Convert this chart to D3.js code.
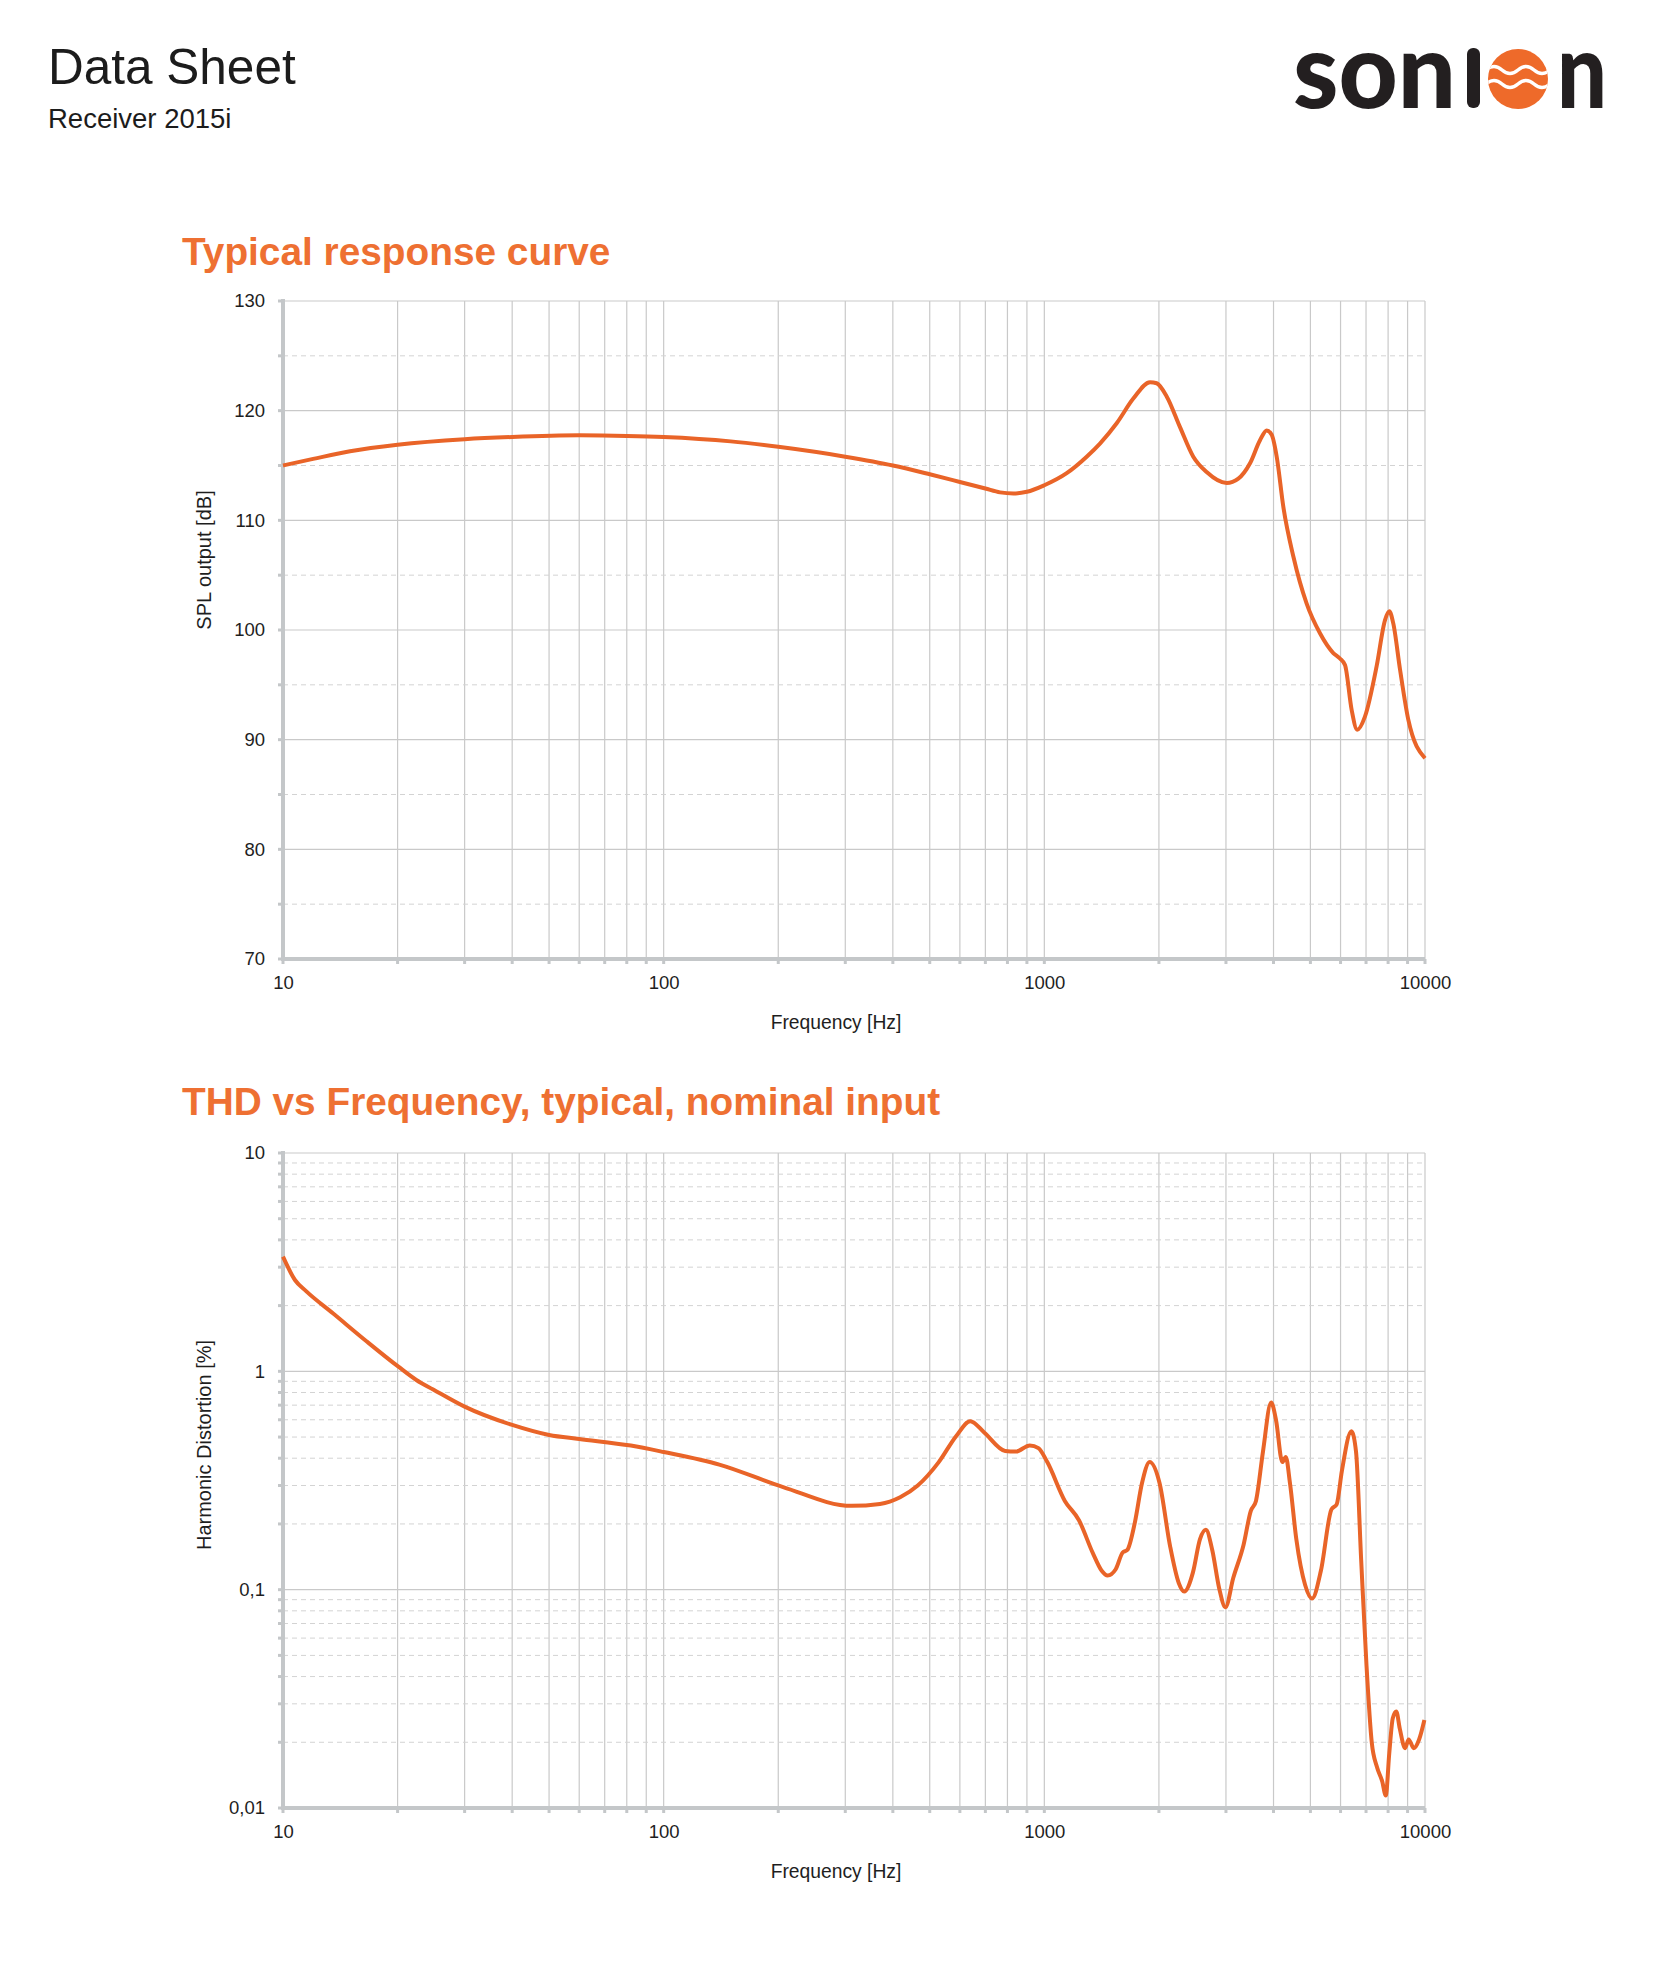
<!DOCTYPE html>
<html>
<head>
  <meta charset="utf-8" />
  <title>Data Sheet - Receiver 2015i</title>
  <style>
    body {
      margin: 0;
      background: #fff;
    }

    svg {
      display: block;
      font-family: Arial, "Liberation Sans", sans-serif;
    }

    .grid-major {
      stroke: #c9c9c9;
      stroke-width: 1.2;
    }

    .grid-minor {
      stroke: #d3d3d3;
      stroke-width: 1;
      stroke-dasharray: 5, 4;
    }

    .axis-line {
      stroke: #c4c7c9;
      stroke-width: 4;
    }

    .tick-mark {
      stroke: #c4c7c9;
      stroke-width: 3;
    }

    .tick-label {
      font-size: 18.5px;
      fill: #1e1e1e;
    }

    .axis-title {
      font-size: 19.3px;
      fill: #1e1e1e;
    }

    .y-title {
      font-size: 20px;
      fill: #1e1e1e;
    }

    .chart-title {
      font-size: 38.8px;
      font-weight: bold;
      fill: #ee7032;
    }

    .curve {
      fill: none;
      stroke: #e96428;
      stroke-width: 4;
      stroke-linejoin: round;
    }

    .logo-text {
      font-family: Lato, "Open Sans", sans-serif;
      font-weight: 900;
      font-size: 105px;
      fill: #231f20;
    }
  </style>
  <script src="https://cdnjs.cloudflare.com/ajax/libs/d3/7.8.5/d3.min.js"></script>
</head>

<body>
  <svg id="page" width="1654" height="1979"></svg>
  <script>
    // response curve (SPL output in dB vs frequency)
    var splFreq = [10, 12, 15, 20, 30, 40, 60, 80, 100, 150, 200, 300, 400, 500, 600, 700, 765, 830, 900, 1000,
      1145, 1292, 1400, 1549, 1713, 1895, 1973, 2096, 2272, 2462, 2669, 3013, 3233, 3470, 3686, 3838, 3956,
      4078, 4246, 4510, 4888, 5298, 5742, 5978, 6164, 6418, 6637, 6954, 7464, 7852, 8058, 8254, 8598, 9042, 10000];
    var splValues = [115.0, 115.6, 116.3, 116.9, 117.4, 117.6, 117.75, 117.7, 117.6, 117.2, 116.7, 115.8, 115.0, 114.2, 113.5, 112.9, 112.55, 112.45, 112.6, 113.2,
      114.3, 115.8, 117.0, 118.85, 121.1, 122.6, 122.5, 121.3, 118.5, 115.8, 114.4, 113.4, 113.8, 115.2, 117.3, 118.2, 117.8,
      115.8, 111.2, 106.7, 102.4, 99.7, 97.9, 97.4, 96.8, 92.7, 90.9, 92.1, 96.7, 100.9, 101.7, 100.6, 96.4, 91.8, 88.3];

    // harmonic distortion in % vs frequency
    var thdFreq = [10, 10.75, 11.5, 13.55, 16.6, 20.1, 22.4, 24.8, 30, 40, 50, 60, 82, 100, 140, 206, 312, 370, 418, 465, 528,
      587, 639, 695, 789, 841, 916, 965, 1018, 1132, 1233, 1341, 1415, 1466, 1540, 1606, 1652, 1730, 1805, 1891,
      2008, 2140, 2256, 2329, 2457, 2563, 2657, 2761, 2881, 2991, 3135, 3339, 3485, 3597, 3753, 3942, 4061, 4219,
      4309, 4419, 4592, 4843, 5050, 5327, 5678, 5861, 6049, 6407, 6588, 6798, 7020, 7248, 7478, 7724, 7888, 8056,
      8229, 8405, 8585, 8867, 9057, 9343, 9650, 9963];
    var thdValues = [3.35, 2.62, 2.33, 1.84, 1.37, 1.05, 0.913, 0.826, 0.689, 0.568, 0.511, 0.49, 0.457, 0.427, 0.374, 0.295, 0.242, 0.247, 0.265, 0.30, 0.384,
      0.506, 0.591, 0.525, 0.432, 0.429, 0.458, 0.445, 0.384, 0.255, 0.208, 0.147, 0.122, 0.116, 0.124, 0.148, 0.152, 0.204, 0.307, 0.384,
      0.307, 0.158, 0.107, 0.098, 0.120, 0.170, 0.188, 0.152, 0.101, 0.083, 0.113, 0.161, 0.229, 0.255, 0.429, 0.719, 0.598, 0.384,
      0.405, 0.307, 0.170, 0.105, 0.091, 0.122, 0.233, 0.246, 0.350, 0.531, 0.429, 0.136, 0.0449, 0.0199, 0.0154, 0.0132, 0.0114, 0.0178,
      0.0258, 0.0277, 0.0231, 0.0188, 0.0206, 0.0188, 0.0206, 0.0253];

    var freqTickValues = [10, 100, 1000, 10000];
    var splTickValues = [70, 80, 90, 100, 110, 120, 130];
    var splMinorValues = [75, 85, 95, 105, 115, 125];
    var thdTickValues = [0.01, 0.1, 1, 10];
    var thdTickLabels = ['0,01', '0,1', '1', '10'];

    var svg = d3.select('#page');
    var left = 283, right = 1425;

    // header
    svg.append('text')
      .attr('x', 48).attr('y', 84)
      .attr('font-size', 49.5).attr('fill', '#1c1c1c')
      .text('Data Sheet');
    svg.append('text')
      .attr('x', 48).attr('y', 128)
      .attr('font-size', 27.5).attr('fill', '#1c1c1c')
      .text('Receiver 2015i');

    // logo: "son", a plain stem for the i, the orange wave disc, "n"
    var logo = svg.append('g');
    logo.append('text').attr('class', 'logo-text')
      .attr('x', 1293).attr('y', 108)
      .attr('textLength', 163).attr('lengthAdjust', 'spacingAndGlyphs')
      .text('son');
    logo.append('rect')
      .attr('x', 1467).attr('y', 48).attr('width', 13).attr('height', 60)
      .attr('rx', 6).attr('fill', '#231f20');
    logo.append('text').attr('class', 'logo-text')
      .attr('x', 1557).attr('y', 108)
      .attr('textLength', 50).attr('lengthAdjust', 'spacingAndGlyphs')
      .text('n');
    logo.append('clipPath').attr('id', 'logoClip')
      .append('circle').attr('cx', 1518).attr('cy', 79).attr('r', 30);
    logo.append('circle').attr('cx', 1518).attr('cy', 79).attr('r', 30).attr('fill', '#ee6a2a');
    var wave = logo.append('g').attr('clip-path', 'url(#logoClip)');
    [-9, 5].forEach(function (dy) {
      wave.append('path')
        .attr('d', 'M1486,' + (79 + dy) + ' q8,-7 16,0 t16,0 t16,0 t16,0')
        .attr('fill', 'none').attr('stroke', '#fff').attr('stroke-width', 3.5);
    });

    function drawChart(opts) {
      var g = svg.append('g');
      var x = d3.scaleLog().domain([10, 10000]).range([left, right]);
      var y = opts.y;
      var top = opts.top, bottom = opts.bottom;

      // vertical grid at every 1..9 multiple
      g.selectAll('.vgrid').data(x.ticks()).enter().append('line')
        .attr('class', 'grid-major')
        .attr('x1', d => x(d)).attr('x2', d => x(d))
        .attr('y1', top).attr('y2', bottom);

      g.selectAll('.hminor').data(opts.minor).enter().append('line')
        .attr('class', 'grid-minor')
        .attr('x1', left).attr('x2', right)
        .attr('y1', d => y(d)).attr('y2', d => y(d));

      g.selectAll('.hmajor').data(opts.major.slice(1)).enter().append('line')
        .attr('class', 'grid-major')
        .attr('x1', left).attr('x2', right)
        .attr('y1', d => y(d)).attr('y2', d => y(d));

      // small tick marks
      g.selectAll('.xtick').data(x.ticks()).enter().append('line')
        .attr('class', 'tick-mark')
        .attr('x1', d => x(d)).attr('x2', d => x(d))
        .attr('y1', bottom).attr('y2', bottom + 5);
      g.selectAll('.ytick').data(opts.major.concat(opts.minor)).enter().append('line')
        .attr('class', 'tick-mark')
        .attr('x1', left - 5).attr('x2', left)
        .attr('y1', d => y(d)).attr('y2', d => y(d));

      // axis lines
      g.append('line').attr('class', 'axis-line')
        .attr('x1', left).attr('x2', right).attr('y1', bottom).attr('y2', bottom);
      g.append('line').attr('class', 'axis-line')
        .attr('x1', left).attr('x2', left).attr('y1', top - 2).attr('y2', bottom + 2);

      // tick labels through d3 axes
      var xAxis = g.append('g')
        .attr('transform', 'translate(0,' + bottom + ')')
        .call(d3.axisBottom(x).tickValues(freqTickValues).tickFormat(d => d).tickSize(0));
      xAxis.select('.domain').remove();
      xAxis.selectAll('text').attr('class', 'tick-label')
        .attr('font-family', null).attr('font-size', null).attr('fill', null)
        .attr('y', 30).attr('dy', null);

      var yAxis = g.append('g')
        .attr('transform', 'translate(' + left + ',0)')
        .call(d3.axisLeft(y).tickValues(opts.major).tickFormat(opts.format).tickSize(0).tickPadding(18));
      yAxis.select('.domain').remove();
      yAxis.selectAll('text').attr('class', 'tick-label')
        .attr('font-family', null).attr('font-size', null).attr('fill', null);

      // titles
      svg.append('text').attr('class', 'chart-title')
        .attr('x', 182).attr('y', opts.titleY).text(opts.title);
      g.append('text').attr('class', 'axis-title')
        .attr('x', 836).attr('y', bottom + 70)
        .attr('text-anchor', 'middle').text('Frequency [Hz]');
      g.append('text').attr('class', 'y-title')
        .attr('transform', 'translate(211,' + opts.yTitleY + ') rotate(-90)')
        .attr('text-anchor', 'middle').text(opts.yTitle);

      // data curve
      var rows = d3.zip(opts.freq, opts.values);
      var line = d3.line()
        .x(d => x(d[0]))
        .y(d => y(d[1]))
        .curve(d3.curveMonotoneX);
      g.append('path').attr('class', 'curve').attr('d', line(rows));
    }

    drawChart({
      top: 301, bottom: 959,
      y: d3.scaleLinear().domain([70, 130]).range([959, 301]),
      major: splTickValues,
      minor: splMinorValues,
      format: d => d,
      title: 'Typical response curve',
      titleY: 265,
      yTitle: 'SPL output [dB]',
      yTitleY: 560,
      freq: splFreq,
      values: splValues
    });

    var thdY = d3.scaleLog().domain([0.01, 10]).range([1808, 1153]);
    drawChart({
      top: 1153, bottom: 1808,
      y: thdY,
      major: thdTickValues,
      minor: thdY.ticks().filter(d => thdTickValues.indexOf(d) < 0),
      format: (d, i) => thdTickLabels[i],
      title: 'THD vs Frequency, typical, nominal input',
      titleY: 1115,
      yTitle: 'Harmonic Distortion [%]',
      yTitleY: 1445,
      freq: thdFreq,
      values: thdValues
    });
  </script>
</body>

</html>
